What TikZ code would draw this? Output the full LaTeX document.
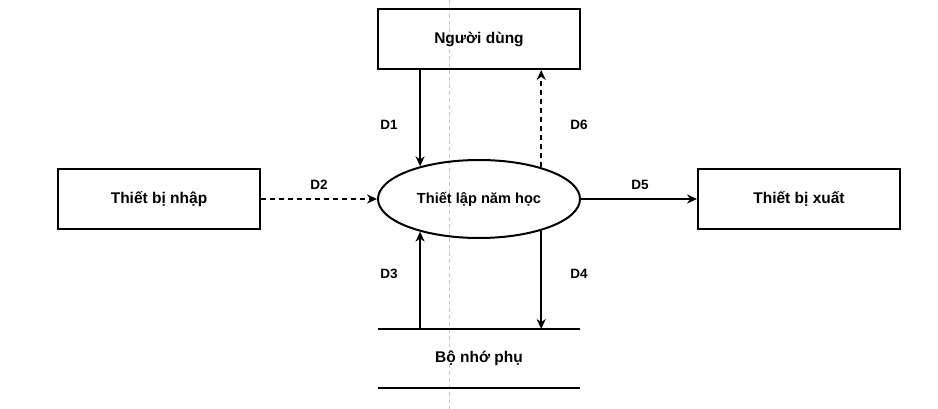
\documentclass[tikz,border=0pt]{standalone}
\usepackage{fontspec}
\setmainfont{Liberation Sans}
\usetikzlibrary{shapes.geometric,arrows.meta}
\begin{document}
\begin{tikzpicture}[x=1pt,y=-1pt,
  every node/.style={font=\fontsize{15.5}{18}\selectfont\bfseries},
  entity/.style={draw,line width=2pt,minimum width=202pt,minimum height=60pt,inner sep=0pt},
  proc/.style={draw,ellipse,line width=2pt,minimum width=202pt,minimum height=78pt,inner sep=0pt,font=\fontsize{14.6}{17}\selectfont\bfseries},
  flow/.style={line width=1.8pt,-{Stealth[length=10pt,width=9pt]}},
  dflow/.style={flow,dash pattern=on 5pt off 4pt},
  lbl/.style={font=\fontsize{13.5}{15}\selectfont\bfseries,inner sep=0pt},
  guide/.style={gray!45,line width=0.7pt,dash pattern=on 4pt off 3pt}]
\useasboundingbox (0,0) rectangle (938,409);
\draw[guide] (449,0) coordinate (g1) -- (449,409) coordinate (g2);
\node[entity] (usr) at (479,39) {Người dùng};
\node[proc] (ell) at (479,199) {Thiết lập năm học};
\node[entity] (inp) at (159,199) {Thiết bị nhập};
\node[entity] (out) at (799,199) {Thiết bị xuất};
\node (mem) at (479,358) {Bộ nhớ phụ};
\coordinate (m1) at (378,329);
\coordinate (m2) at (580,329);
\coordinate (m3) at (378,388);
\coordinate (m4) at (580,388);
\draw[line width=2pt] (m1) -- (m2);
\draw[line width=2pt] (m3) -- (m4);
\draw[flow] (usr.south -| ell.151) -- (ell.151);
\draw[dflow] (ell.27) -- (usr.south -| ell.27);
\draw[flow] (m1 -| ell.209) -- (ell.209);
\draw[flow] (ell.333) -- (m1 -| ell.333);
\draw[dflow] (inp.east) -- (ell.west);
\draw[flow] (ell.east) -- (out.west);
\node[lbl] (d1) at (389,125) {D1};
\node[lbl] (d6) at (579,125) {D6};
\node[lbl] (d3) at (389,274) {D3};
\node[lbl] (d4) at (579,274) {D4};
\node[lbl] (d2) at (319,185) {D2};
\node[lbl] (d5) at (640,185) {D5};
\end{tikzpicture}
\end{document}
